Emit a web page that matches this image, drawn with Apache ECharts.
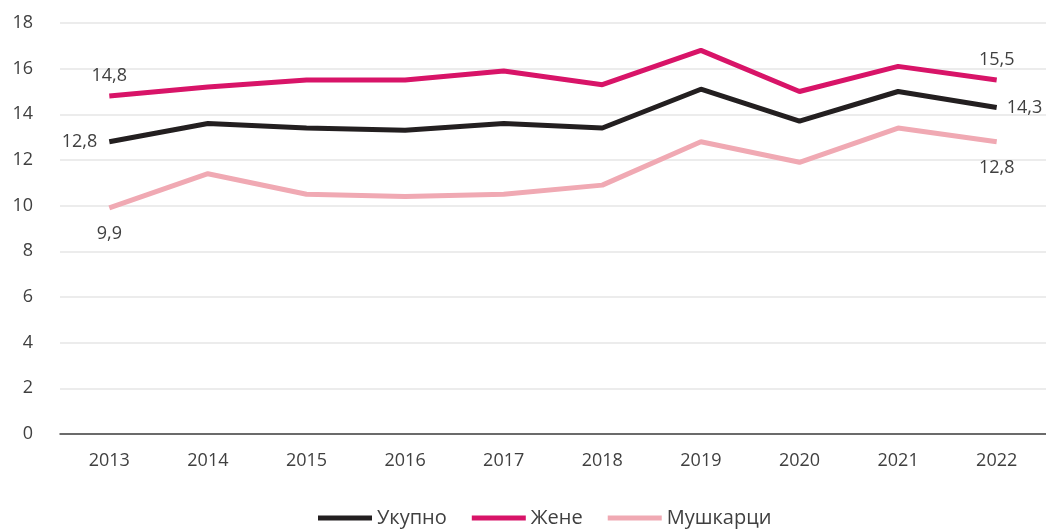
<!DOCTYPE html>
<html><head><meta charset="utf-8">
<script src="https://cdn.jsdelivr.net/npm/echarts@6/dist/echarts.min.js"></script>
<style>html,body{margin:0;padding:0;background:#fff}#c{width:1046px;height:529px}</style>
</head><body><div id="c"></div>
<script>
const years = ['2013','2014','2015','2016','2017','2018','2019','2020','2021','2022'];
const ukupno = [12.8, 13.6, 13.4, 13.3, 13.6, 13.4, 15.1, 13.7, 15.0, 14.3];
const zene = [14.8, 15.2, 15.5, 15.5, 15.9, 15.3, 16.8, 15.0, 16.1, 15.5];
const muskarci = [9.9, 11.4, 10.5, 10.4, 10.5, 10.9, 12.8, 11.9, 13.4, 12.8];
const yTicks = [0, 2, 4, 6, 8, 10, 12, 14, 16, 18];

const FONT = '"Open Sans", "Noto Sans", sans-serif';
const TXT = '#404040';
const fmt = v => v.toFixed(1).replace('.', ',');
const DIST = { top: 11, bottom: 17, left: 12, right: 10 };

function mk(name, data, color, firstPos, lastPos) {
  const n = data.length;
  return {
    name, type: 'line',
    data: data.map((v, i) => {
      const o = { value: v };
      if (i === 0 || i === n - 1) {
        const pos = i === 0 ? firstPos : lastPos;
        o.label = { show: true, position: pos, distance: DIST[pos],
          formatter: p => fmt(p.value), fontFamily: FONT, fontSize: 18, color: TXT };
      }
      return o;
    }),
    symbol: 'circle', symbolSize: 0, showSymbol: true,
    lineStyle: { color, width: 5 }, itemStyle: { color },
    label: { show: false }
  };
}

const chart = echarts.init(document.getElementById('c'));
chart.setOption({
  animation: false,
  grid: { left: 60, right: 0, top: 23, bottom: 95 },
  legend: {
    bottom: -4, left: 313, itemWidth: 54, itemHeight: 5, itemGap: 25,
    icon: 'rect',
    textStyle: { fontFamily: FONT, fontSize: 20, color: TXT },
    data: ['Укупно', 'Жене', 'Мушкарци']
  },
  xAxis: {
    type: 'category', data: years, boundaryGap: true,
    axisLine: { lineStyle: { color: '#404040', width: 1.5 } },
    axisTick: { show: false },
    axisLabel: { fontFamily: FONT, fontSize: 18, color: TXT, margin: 18 }
  },
  yAxis: {
    type: 'value', min: yTicks[0], max: yTicks[yTicks.length - 1], interval: 2,
    axisLine: { show: false }, axisTick: { show: false },
    splitLine: { lineStyle: { color: '#e6e6e6', width: 1.5 } },
    axisLabel: { fontFamily: FONT, fontSize: 18, color: TXT, margin: 27 }
  },
  series: [
    mk('Укупно', ukupno, '#231f20', 'left', 'right'),
    mk('Жене', zene, '#d81468', 'top', 'top'),
    mk('Мушкарци', muskarci, '#f0a9b3', 'bottom', 'bottom')
  ]
});
</script></body></html>
